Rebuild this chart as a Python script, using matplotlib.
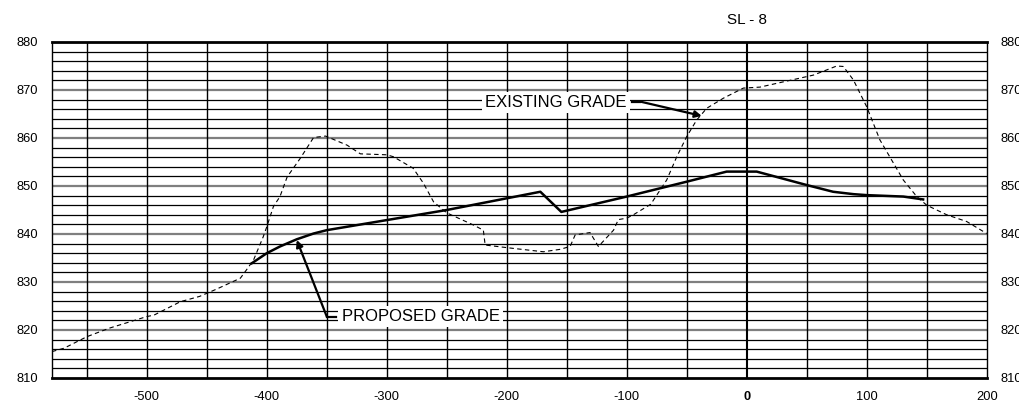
import matplotlib
matplotlib.use("Agg")
import matplotlib.pyplot as plt
import numpy as np

plt.rcParams['font.family'] = ['Liberation Sans', 'DejaVu Sans']
plt.rcParams['axes.unicode_minus'] = False

# Existing grade (dashed)
existing_x = [-579, -569, -550, -531, -500, -494, -472, -456, -442, -422, -417, -411, -403, -400,
              -394.5, -389, -383, -372, -361, -351, -333, -322, -300, -294.5, -278, -269.5, -261,
              -250, -228, -219.5, -218, -194.5, -169.5, -155.6, -147.2, -143, -130.6, -123.6, -111,
              -107, -100, -94.5, -80, -66.7, -58.3, -50, -41.7, -33.3, -19.4, -2.8, 11, 55.5, 75,
              80.5, 88.9, 100, 111, 130.5, 141.7, 150, 166.7, 183.3, 200]
existing_y = [815.5, 816.2, 818.6, 820.4, 822.8, 823.1, 825.9, 827.0, 828.5, 830.8, 832.5, 834.6,
              839.4, 841.5, 845.7, 847.8, 851.9, 855.8, 860.1, 860.4, 858.5, 856.7, 856.5, 856.1,
              853.7, 850.6, 846.7, 844.4, 841.9, 840.8, 837.7, 837.0, 836.3, 836.8, 837.4, 839.8,
              840.3, 837.4, 840.8, 843.0, 843.3, 844.0, 846.2, 851.25, 856.1, 860.3, 863.75, 866.2,
              868.3, 870.4, 870.6, 873.1, 875.0, 874.9, 872.1, 866.5, 859.6, 851.25, 847.8, 846.0,
              844.0, 842.6, 840.1]

# Proposed grade (solid)
proposed_x = [-412.5, -400, -389, -375, -361, -350, -300, -250, -172, -154.5, -100, -50, -16.7,
              8.3, 50, 72, 89, 100, 130.5, 147]
proposed_y = [833.9, 836.0, 837.4, 838.9, 840.1, 840.8, 842.9, 845.0, 848.8, 844.6, 847.8, 850.9,
              853.0, 853.0, 850.2, 848.8, 848.3, 848.1, 847.8, 847.2]

x_ticks = [-500, -400, -300, -200, -100, 0, 100, 200]
y_ticks = [810, 820, 830, 840, 850, 860, 870, 880]
title = "SL - 8"

fig = plt.figure(figsize=(10.19, 4.04), dpi=100)
ax = fig.add_axes([52 / 1019, 26 / 404, (986.7 - 52) / 1019, (378 - 42) / 404])
ax.set_xlim(-579, 200)
ax.set_ylim(810, 880)

# grid
for yv in np.arange(812, 880, 2):
    if yv % 10 == 0:
        ax.axhline(yv, color='#7f7f7f', lw=1.6, zorder=1)
    else:
        ax.axhline(yv, color='black', lw=0.9, zorder=1)
for xv in np.arange(-550, 200, 50):
    ax.axvline(xv, color='black', lw=1.5 if xv == 0 else 1.0, zorder=1)

ax.plot(existing_x, existing_y, color='black', lw=0.8, ls=(0, (4, 3)), zorder=3)
ax.plot(proposed_x, proposed_y, color='black', lw=1.8, zorder=4)

ax.set_xticks(x_ticks)
ax.set_yticks(y_ticks)
ax.tick_params(length=0, labelsize=9.3, labelright=True, pad=10)
ax.tick_params(axis='x', pad=9)
for lab in ax.get_xticklabels():
    if lab.get_text() in ('0',):
        lab.set_fontweight('bold')
for s in ['top', 'bottom']:
    ax.spines[s].set_linewidth(2.0)
for s in ['left', 'right']:
    ax.spines[s].set_linewidth(1.0)

ax.set_title(title, fontsize=11, pad=13, x=(746.7 - 52) / (986.7 - 52))

# annotations
bbox = dict(boxstyle='square,pad=0.2', fc='white', ec='none')
ax.text(-218, 867.4, "EXISTING GRADE", fontsize=12, va='center', ha='left', bbox=bbox, zorder=6)
ax.annotate('', xy=(-37.5, 864.6), xytext=(-89, 867.6),
            arrowprops=dict(arrowstyle='-|>', color='black', lw=1.6, mutation_scale=10,
                            shrinkA=0, shrinkB=0), zorder=6)
ax.plot([-96, -89], [867.6, 867.6], color='black', lw=1.6, zorder=6)

ax.text(-337.5, 822.8, "PROPOSED GRADE", fontsize=12, va='center', ha='left', bbox=bbox, zorder=6)
ax.annotate('', xy=(-375, 838.75), xytext=(-350, 822.8),
            arrowprops=dict(arrowstyle='-|>', color='black', lw=1.6, mutation_scale=10,
                            shrinkA=0, shrinkB=0), zorder=6)
ax.plot([-350, -342], [822.8, 822.8], color='black', lw=1.6, zorder=6)

fig.savefig('out.png', dpi=100)
